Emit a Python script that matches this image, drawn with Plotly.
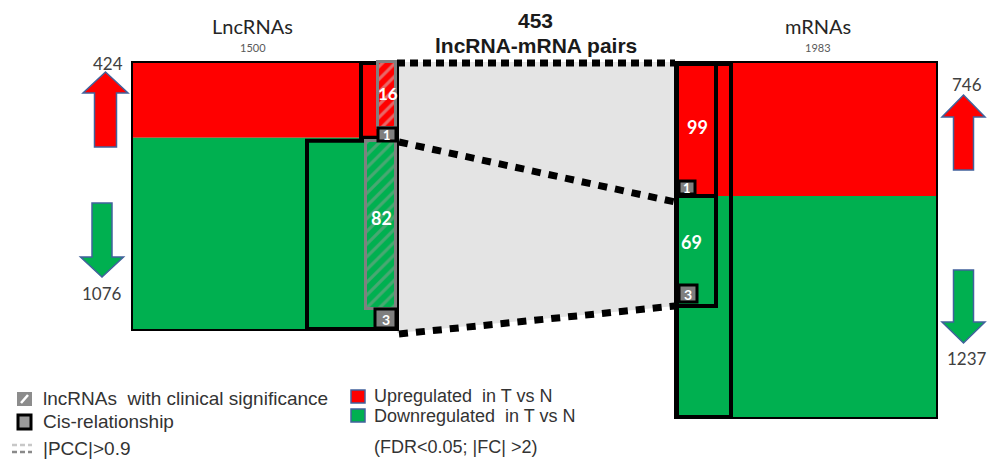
import plotly.graph_objects as go

# ---------------- data ----------------
lnc_total = 1500
lnc_groups = ["Up", "Down"]
lnc_counts = [424, 1076]
mrna_total = 1983
mrna_counts = [746, 1237]
pairs_total = 453
lnc_pair_counts = [16, 82]     # lncRNAs with clinical significance (up, down)
lnc_cis_counts = [1, 3]        # cis-relationship (up, down)
mrna_pair_counts = [99, 69]    # paired mRNAs (up, down)
mrna_cis_counts = [1, 3]
legend_labels = ["lncRNAs  with clinical significance", "Cis-relationship", "|PCC|>0.9",
                 "Upregulated  in T vs N", "Downregulated  in T vs N", "(FDR<0.05; |FC| >2)"]

RED = "#ff0000"
GREEN = "#00b050"
EDGE = "#41629c"
TXT = "#404040"

# layout geometry (pixel space of the canvas)
L_X0, L_X1, L_Y0, L_Y1 = 132, 397, 62, 330
R_X0, R_X1, R_Y0, R_Y1 = 675, 937, 62, 418
l_split = L_Y0 + (L_Y1 - L_Y0) * lnc_counts[0] / lnc_total
r_split = R_Y0 + (R_Y1 - R_Y0) * mrna_counts[0] / mrna_total

shapes = []

def rect(x0, y0, x1, y1, fill=None, lc=None, lw=0, layer="below"):
    shapes.append(dict(type="rect", xref="x", yref="y", x0=x0, y0=y0, x1=x1, y1=y1,
                       fillcolor=fill if fill else "rgba(0,0,0,0)",
                       line=dict(color=lc if lc else "rgba(0,0,0,0)", width=lw), layer=layer))

def line(x0, y0, x1, y1, color="black", width=2, dash="solid", layer="below"):
    shapes.append(dict(type="line", xref="x", yref="y", x0=x0, y0=y0, x1=x1, y1=y1,
                       line=dict(color=color, width=width, dash=dash), layer=layer))

def path(d, fill, lc, lw, layer="below"):
    shapes.append(dict(type="path", xref="x", yref="y", path=d, fillcolor=fill,
                       line=dict(color=lc, width=lw), layer=layer))

# connecting band
path(f"M{L_X1},{L_Y0} L{R_X0},{R_Y0} L{R_X0},306 L{L_X1},333 Z", "#e4e4e4", "rgba(0,0,0,0)", 0)

# left box
rect(L_X0, L_Y0, L_X1, l_split, fill=RED)
rect(L_X0, l_split, L_X1, L_Y1, fill=GREEN)
rect(L_X0, L_Y0, L_X1, L_Y1, lc="black", lw=2)
rect(361, L_Y0 + 1, L_X1, l_split, lc="black", lw=4)
rect(307, l_split + 3, L_X1, L_Y1 - 1, lc="black", lw=4)

# right box
rect(R_X0, R_Y0, R_X1, r_split, fill=RED)
rect(R_X0, r_split, R_X1, R_Y1, fill=GREEN)
rect(R_X0, R_Y0, R_X1, R_Y1, lc="black", lw=2)
rect(R_X0 + 2, R_Y0 + 2, 731, R_Y1 - 1, lc="black", lw=4)
rect(R_X0 + 2, R_Y0 + 2, 716, r_split, lc="black", lw=4)
rect(R_X0 + 2, r_split, 716, 306, lc="black", lw=4)

# dotted connectors
line(L_X1, 63, R_X0, 63, width=7, dash="8px,5px")
line(L_X1 + 2, 142, R_X0, 202, width=7, dash="9px,8px")
line(L_X1 + 2, 334, R_X0, 306, width=7, dash="9px,8px")

# arrows
def up_arrow(cx, tip, base, bottom, hw, sw, fill):
    d = (f"M{cx},{tip} L{cx+hw},{base} L{cx+sw},{base} L{cx+sw},{bottom} "
         f"L{cx-sw},{bottom} L{cx-sw},{base} L{cx-hw},{base} Z")
    path(d, fill, EDGE, 1.5)

def down_arrow(cx, top, base, tip, hw, sw, fill):
    d = (f"M{cx-sw},{top} L{cx+sw},{top} L{cx+sw},{base} L{cx+hw},{base} "
         f"L{cx},{tip} L{cx-hw},{base} L{cx-sw},{base} Z")
    path(d, fill, EDGE, 1.5)

up_arrow(105.5, 72, 93, 147, 22.5, 11, RED)
down_arrow(102, 203, 257, 277, 21.5, 10, GREEN)
up_arrow(963.5, 95, 117, 170, 21.5, 10, RED)
down_arrow(963.5, 270, 322, 343, 21.5, 10, GREEN)

# cis boxes (above traces)
rect(378, 128, 396, 141, fill="#7f7f7f", lc="black", lw=3, layer="above")
rect(375, 309, 396, 328, fill="#7f7f7f", lc="black", lw=3, layer="above")
rect(679, 181, 695, 194, fill="#7f7f7f", lc="black", lw=3, layer="above")
rect(679, 285, 697, 302, fill="#7f7f7f", lc="black", lw=3, layer="above")

# legend icons
rect(17, 392, 32, 406, fill="#8c8c8c")
line(21, 403, 28, 395, color="white", width=2.5)
rect(18, 415, 31, 429, fill="#9a9a9a", lc="black", lw=3)
line(12, 445, 32, 445, color="#c8c8c8", width=2.5, dash="5px,3px")
line(12, 452, 32, 452, color="#8a8a8a", width=2.5, dash="5px,3px")
rect(351, 390, 365, 403, fill=RED, lc=EDGE, lw=1.5)
rect(351, 409, 365, 422, fill=GREEN, lc=EDGE, lw=1.5)

fig = go.Figure()

# hatched columns: lncRNAs with clinical significance
hatch_specs = [
    (387, 18, L_Y0, 128, RED, "#d0d0d0"),
    (381, 30, l_split + 3, 309, GREEN, "#8f9f93"),
]
for cx, w, y0, y1, bg, fg in hatch_specs:
    fig.add_trace(go.Bar(x=[cx], y=[y1 - y0], base=[y0], width=[w],
                         marker=dict(color=bg, line=dict(color="#808080", width=3),
                                     pattern=dict(shape="/", bgcolor=bg, fgcolor=fg,
                                                  size=9, solidity=0.35)),
                         hoverinfo="skip", showlegend=False))

ann = []

def text(x, y, s, size, color=TXT, bold=False, family="Lato", xanchor="center"):
    if bold:
        s = f"<b>{s}</b>"
    ann.append(dict(x=x, y=y, xref="x", yref="y", text=s, showarrow=False,
                    xanchor=xanchor, yanchor="middle",
                    font=dict(size=size, color=color, family=family)))

text(535, 20, str(pairs_total), 21, color="#1a1a1a", bold=True, family="Liberation Sans")
text(536, 45, "lncRNA-mRNA pairs", 21, color="#1a1a1a", bold=True, family="Liberation Sans")
text(252, 26, "LncRNAs", 20, color="#262626")
text(253, 47, str(lnc_total), 11, color="#595959")
text(818, 26, "mRNAs", 20, color="#262626")
text(818, 47, str(mrna_total), 11, color="#595959")

text(108, 63, str(lnc_counts[0]), 17)
text(102, 293, str(lnc_counts[1]), 17)
text(967, 84, str(mrna_counts[0]), 17)
text(967, 358, str(mrna_counts[1]), 17)

text(388, 93, str(lnc_pair_counts[0]), 17, color="white", bold=True)
text(381, 218, str(lnc_pair_counts[1]), 18, color="white", bold=True)
text(387, 135, str(lnc_cis_counts[0]), 13, color="white", bold=True)
text(386, 319, str(lnc_cis_counts[1]), 14, color="white", bold=True)
text(697, 127, str(mrna_pair_counts[0]), 18, color="white", bold=True)
text(691, 242, str(mrna_pair_counts[1]), 18, color="white", bold=True)
text(687, 188, str(mrna_cis_counts[0]), 13, color="white", bold=True)
text(688, 294, str(mrna_cis_counts[1]), 14, color="white", bold=True)

leg_pos = [(41, 398), (41, 421), (41, 448), (372, 396), (372, 416), (372, 447)]
leg_sizes = [19, 19, 19, 18, 18, 18]
for (x, y), s, fs in zip(leg_pos, legend_labels, leg_sizes):
    text(x, y, s, fs, color="#333333", family="Liberation Sans", xanchor="left")

fig.update_layout(
    width=990, height=462, autosize=False,
    margin=dict(l=0, r=0, t=0, b=0),
    paper_bgcolor="white", plot_bgcolor="white",
    barmode="overlay", bargap=0,
    xaxis=dict(range=[0, 990], visible=False, fixedrange=True),
    yaxis=dict(range=[462, 0], visible=False, fixedrange=True),
    shapes=shapes, annotations=ann, hovermode=False, showlegend=False,
)

fig.write_html("out.html", config={"displayModeBar": False},
               post_script="document.body.style.margin='0';document.body.style.overflow='hidden';")
